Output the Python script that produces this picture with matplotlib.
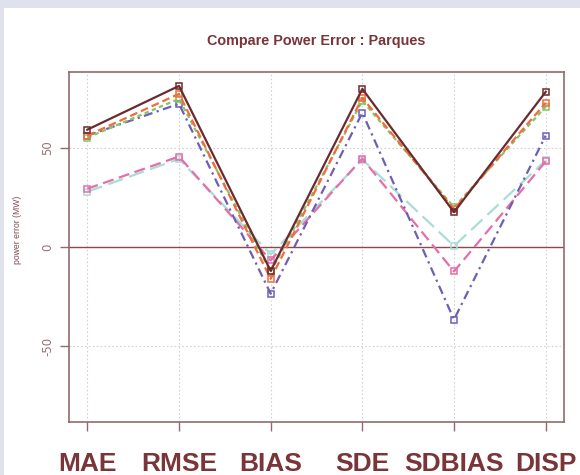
import matplotlib
matplotlib.use("Agg")
import matplotlib.pyplot as plt
from matplotlib.patches import Rectangle

# data
metrics = ["MAE", "RMSE", "BIAS", "SDE", "SDBIAS", "DISP"]
brown = [59, 81, -12, 79.5, 17.5, 78]
orange = [56, 77, -16, 75, 19, 72.5]
green = [55, 74.5, -12.5, 73.5, 20, 70.5]
purple = [56, 72, -23.5, 67.5, -36.5, 56]
pink = [29.3, 45.5, -6.7, 44.5, -12.3, 43]
cyan = [27.8, 44.3, -3.7, 44, 0.5, 43.5]

series = [
    (cyan, "#a9ddd6", (0, (7, 3))),
    (pink, "#e56eaa", (0, (5, 2.5))),
    (purple, "#6d5fb3", (0, (4, 2, 1, 2))),
    (green, "#86c664", (0, (2, 1.5))),
    (orange, "#f26b3e", (0, (3.5, 1.8))),
    (brown, "#6b2b2e", "-"),
]

txt = "#7a3538"
axc = "#93696b"

fig = plt.figure(figsize=(5.8, 4.75), dpi=100, facecolor="#dfe1ec")
bg = Rectangle((4 / 580, 0), 1, 1 - 8 / 475, transform=fig.transFigure,
               facecolor="white", edgecolor="none", zorder=-10)
fig.patches.append(bg)

ax = fig.add_axes([69 / 580, 1 - 422 / 475, (564 - 69) / 580, (422 - 72) / 475])
ax.set_zorder(5)
x = list(range(1, len(metrics) + 1))

ax.grid(True, color="#d2d2d2", linestyle=(0, (1.5, 2)), linewidth=0.8)
ax.set_axisbelow(True)
ax.axhline(0, color="#8a4a4d", linewidth=1.0, zorder=1)

for vals, col, ls in series:
    ax.plot(x, vals, color=col, linestyle=ls, linewidth=1.6, marker="s",
            markersize=4, markerfacecolor="none", markeredgewidth=1.1, zorder=3)

ax.set_xlim(0.8, 6.2)
ax.set_ylim(-88, 88)
ax.set_xticks(x)
ax.set_xticklabels(metrics, fontsize=19, fontweight="bold", color=txt,
                   family="Liberation Sans")
ax.set_yticks([-50, 0, 50])
ax.set_yticklabels(["-50", "0", "50"], rotation=90, va="center", fontsize=8.5,
                   color="#9a7275")
ax.tick_params(axis="x", length=6.5, width=1, color=axc, pad=15)
ax.tick_params(axis="y", length=6.5, width=1, color=axc, pad=4)
for sp in ax.spines.values():
    sp.set_color(axc)
    sp.set_linewidth(1.2)

ax.set_ylabel("power error (MW)", fontsize=6.2, color="#7e4a4d",
              family="Liberation Sans")
ax.yaxis.set_label_coords(-0.095, 0.55)
fig.text(0.545, 0.913, "Compare Power Error : Parques", ha="center", va="center",
         fontsize=10.4, fontweight="bold", color=txt, family="Liberation Sans",
         zorder=6)

fig.savefig("out.png", dpi=100, facecolor=fig.get_facecolor())
